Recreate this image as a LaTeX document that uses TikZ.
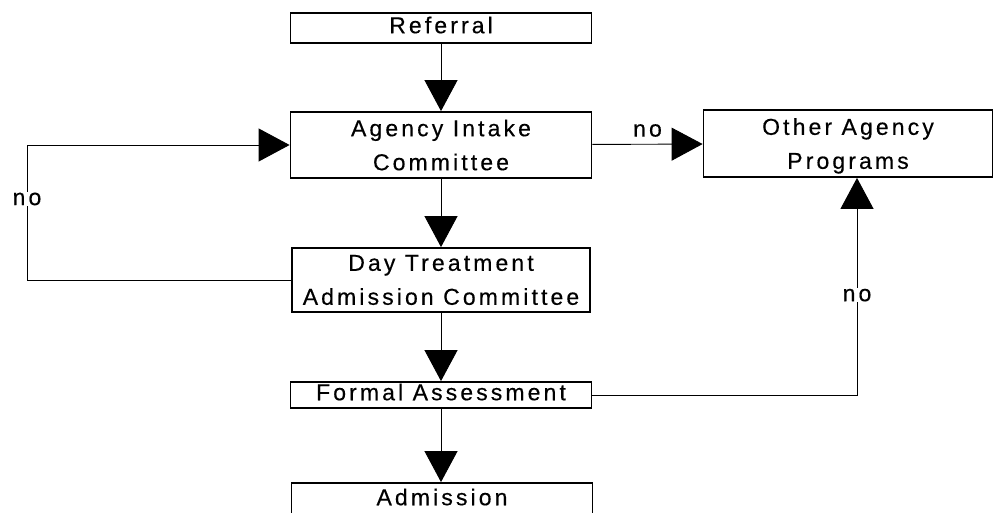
\documentclass[tikz,border=0pt]{standalone}
\usepackage{fontspec}
\setmainfont{Liberation Sans}[LetterSpace=13.5,FakeBold=0.4]
\usetikzlibrary{arrows.meta}
\begin{document}
\begin{tikzpicture}[x=1pt,y=-1pt,
  box/.style={draw,line width=1.8pt,inner sep=0pt,align=center,font=\fontsize{23}{34}\selectfont},
  onebox/.style={box,text height=16.5pt,text depth=6pt},
  conn/.style={line width=0.9pt},
  arr/.style={conn,-{Triangle[length=31pt,width=33pt]}},
  lbl/.style={inner sep=1pt,fill=white,font=\fontsize{23}{26}\selectfont}]
\useasboundingbox (0,0) rectangle (995,513);
\clip (0,0) rectangle (995,513);
\node[onebox,minimum width=301pt,minimum height=30pt] (ref) at (441,28) {Referral};
\node[box,minimum width=301pt,minimum height=66pt] (agency) at (441,145) {Agency Intake\\Committee};
\node[box,minimum width=289pt,minimum height=67pt] (other) at (848,143.5) {Other Agency\\\raisebox{0pt}[\height][0pt]{Programs}};
\node[box,minimum width=298pt,minimum height=64pt] (day) at (441,280) {Day Treatment\\Admission Committee};
\node[onebox,minimum width=301pt,minimum height=26pt] (formal) at (441,395) {Formal Assessment};
\node[onebox,minimum width=301pt,minimum height=34pt] (adm) at (442,500) {Admission};
\coordinate (lb) at (27,280);
\coordinate (lt) at (27,145);
\coordinate (rb) at (857,395);
\draw[arr] (ref) -- (agency);
\draw[arr] (agency) -- (day);
\draw[arr] (day) -- (formal);
\draw[arr] (formal.south) -- (formal.south |- adm.north);
\draw[arr] (agency) -- node[above=7pt,inner sep=0pt,font=\fontsize{23}{26}\selectfont]{no} (other);
\draw[arr] (day.west) -- (lb) -- node[lbl,pos=0.6]{no} (lt) -- (agency.west);
\draw[arr] (formal.east) -- (rb) -- node[lbl,pos=0.46]{no} (rb |- other.south);
\end{tikzpicture}
\end{document}
